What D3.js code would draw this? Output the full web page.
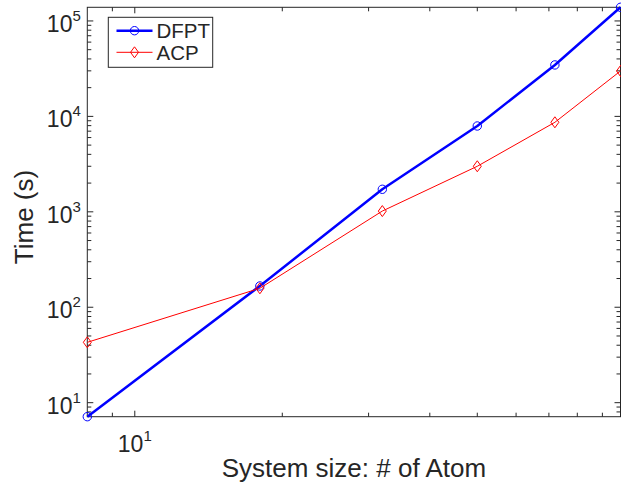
<!DOCTYPE html>
<html>
<head>
<meta charset="utf-8">
<script src="https://cdn.jsdelivr.net/npm/d3@7"></script>
<style>
  html, body { margin: 0; padding: 0; background: #fff; }
  svg { display: block; }
  text { font-family: "Liberation Sans", Arial, Helvetica, sans-serif; fill: #262626; }
</style>
</head>
<body>
<svg id="chart" width="621" height="487"></svg>
<script>
// Number of atoms in each system
const atoms = [8, 18, 32, 50, 72, 98];
// Wall time (s) for each method
const dfptTime = [7.13, 167, 1722, 7930, 34600, 139000];
const acpTime = [42.9, 158, 1018, 3000, 8670, 29900];
// Tick values
const xMajorTicks = [10];
const xMinorTicks = [9, 20, 30, 40, 50, 60, 70, 80, 90];
const yMajorExps = [1, 2, 3, 4, 5];

const svg = d3.select("#chart");
const axisColor = "#262626";
const plot = { left: 87.3, right: 620.5, top: 7.3, bottom: 416.7 };

const x = d3.scaleLog().domain([d3.min(atoms), d3.max(atoms)]).range([plot.left, plot.right]);
const y = d3.scaleLog().domain([d3.min(dfptTime), d3.max(dfptTime)]).range([plot.bottom, plot.top]);

// y minor ticks: 2..9 of every decade within the domain
const yMinorTicks = [];
for (let e = 0; e <= 5; e++) {
  for (let m = 2; m <= 9; m++) {
    const v = m * Math.pow(10, e);
    if (v > y.domain()[0] && v < y.domain()[1]) yMinorTicks.push(v);
  }
}
const yMajorTicks = yMajorExps.map(e => Math.pow(10, e));

// Axes box
svg.append("rect")
  .attr("x", plot.left).attr("y", plot.top)
  .attr("width", plot.right - plot.left).attr("height", plot.bottom - plot.top)
  .attr("fill", "none").attr("stroke", axisColor).attr("stroke-width", 1);

const majorLen = 6, minorLen = 4;
const tickG = svg.append("g").attr("stroke", axisColor).attr("stroke-width", 1);

// x ticks, bottom and top, pointing inward
[[xMajorTicks, majorLen], [xMinorTicks, minorLen]].forEach(([vals, len]) => {
  tickG.selectAll(null).data(vals).enter().append("line")
    .attr("x1", d => x(d)).attr("x2", d => x(d))
    .attr("y1", plot.bottom).attr("y2", plot.bottom - len);
  tickG.selectAll(null).data(vals).enter().append("line")
    .attr("x1", d => x(d)).attr("x2", d => x(d))
    .attr("y1", plot.top).attr("y2", plot.top + len);
});
// y ticks, left and right, pointing inward
[[yMajorTicks, majorLen], [yMinorTicks, minorLen]].forEach(([vals, len]) => {
  tickG.selectAll(null).data(vals).enter().append("line")
    .attr("x1", plot.left).attr("x2", plot.left + len)
    .attr("y1", d => y(d)).attr("y2", d => y(d));
  tickG.selectAll(null).data(vals).enter().append("line")
    .attr("x1", plot.right).attr("x2", plot.right - len)
    .attr("y1", d => y(d)).attr("y2", d => y(d));
});

// y tick labels: 10^n
const yLab = svg.append("g").selectAll("text").data(yMajorExps).enter().append("text")
  .attr("x", plot.left - 6.5)
  .attr("y", d => y(Math.pow(10, d)) + 11)
  .attr("text-anchor", "end")
  .style("font-size", "23px");
yLab.append("tspan").text("10");
yLab.append("tspan").attr("dy", -11).style("font-size", "15px").text(d => d);

// x tick labels
const xLab = svg.append("g").selectAll("text").data(xMajorTicks).enter().append("text")
  .attr("x", d => x(d))
  .attr("y", 451.7)
  .attr("text-anchor", "middle")
  .style("font-size", "23px");
xLab.append("tspan").text("10");
xLab.append("tspan").attr("dy", -11).style("font-size", "15px").text(d => Math.round(Math.log10(d)));

// Axis titles
svg.append("text")
  .attr("x", (plot.left + plot.right) / 2).attr("y", 476.7)
  .attr("text-anchor", "middle")
  .style("font-size", "26px")
  .text("System size: # of Atom");
svg.append("text")
  .attr("transform", `translate(33,${(plot.top + plot.bottom) / 2 + 5}) rotate(-90)`)
  .attr("text-anchor", "middle")
  .style("font-size", "26px")
  .text("Time (s)");

// Series
const series = [
  { name: "DFPT", values: dfptTime, color: "#0000ff", width: 2.5, marker: "circle" },
  { name: "ACP", values: acpTime, color: "#ff0000", width: 1, marker: "diamond" }
];
const line = d3.line().x(d => x(d[0])).y(d => y(d[1]));

function drawMarker(g, type, color) {
  if (type === "circle") {
    g.append("circle").attr("r", 4.2)
      .attr("fill", "none").attr("stroke", color).attr("stroke-width", 1);
  } else {
    g.append("path").attr("d", "M0,-5.5L4,0L0,5.5L-4,0Z")
      .attr("fill", "none").attr("stroke", color).attr("stroke-width", 1);
  }
}

series.forEach(s => {
  const pts = atoms.map((a, i) => [a, s.values[i]]);
  svg.append("path").datum(pts)
    .attr("d", line)
    .attr("fill", "none").attr("stroke", s.color)
    .attr("stroke-width", s.width).attr("stroke-linejoin", "round");
  svg.append("g").selectAll("g").data(pts).enter().append("g")
    .attr("transform", d => `translate(${x(d[0])},${y(d[1])})`)
    .each(function () { drawMarker(d3.select(this), s.marker, s.color); });
});

// Legend
const lg = svg.append("g");
lg.append("rect")
  .attr("x", 108.3).attr("y", 17.3).attr("width", 104.4).attr("height", 50)
  .attr("fill", "#fff").attr("stroke", axisColor).attr("stroke-width", 1);
const rowY = [30.7, 52.3];
series.forEach((s, i) => {
  const row = lg.append("g").attr("transform", `translate(0,${rowY[i]})`);
  row.append("line").attr("x1", 116.5).attr("x2", 152.5).attr("y1", 0).attr("y2", 0)
    .attr("stroke", s.color).attr("stroke-width", s.width);
  const m = row.append("g").attr("transform", "translate(134.5,0)");
  drawMarker(m, s.marker, s.color);
  row.append("text").attr("x", 156.5).attr("y", 7.5)
    .style("font-size", "20.5px").text(s.name);
});
</script>
</body>
</html>
